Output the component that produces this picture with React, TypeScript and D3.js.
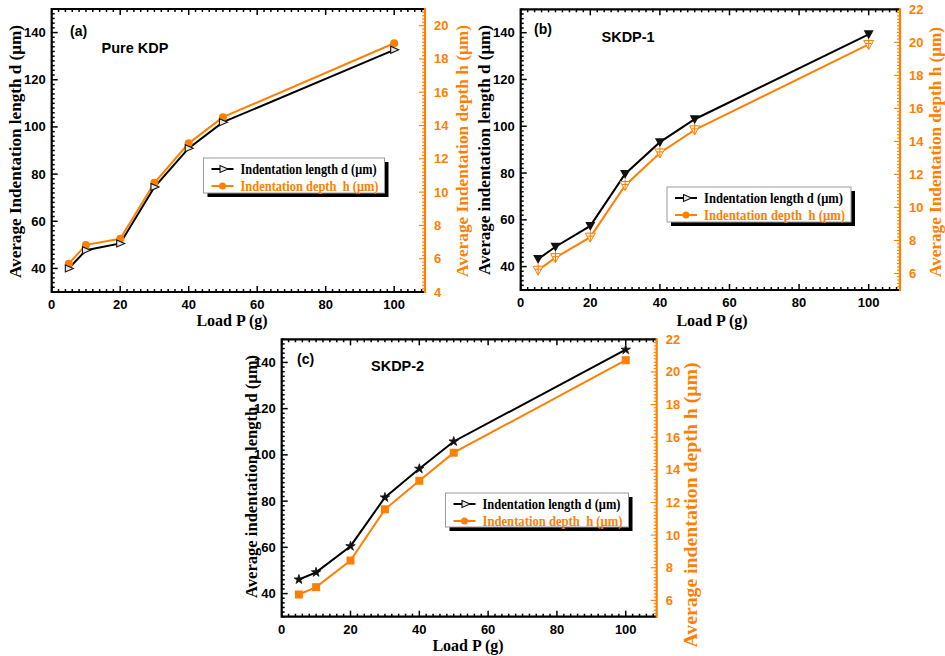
import React from "react";
import * as d3 from "d3";

const loads = [5, 10, 20, 30, 40, 50, 100];
const kdpLength = [40, 47.7, 50.6, 74.5, 91, 102, 132.7];
const kdpDepth = [5.7, 6.83, 7.2, 10.56, 12.93, 14.5, 18.94];
const skdp1Length = [43.2, 48.5, 57.4, 79.6, 93.2, 103, 139.3];
const skdp1Depth = [6.2, 6.96, 8.2, 11.33, 13.3, 14.7, 19.87];
const skdp2Length = [46.1, 49.2, 60.5, 81.6, 94, 105.8, 145.5];
const skdp2Depth = [6.36, 6.81, 8.44, 11.58, 13.33, 15.05, 20.72];

const xTicks = [0, 20, 40, 60, 80, 100];
const leftTicks = [40, 60, 80, 100, 120, 140];
const rightTicksA = [4, 6, 8, 10, 12, 14, 16, 18, 20];
const rightTicksBC = [6, 8, 10, 12, 14, 16, 18, 20, 22];

const legendLabels = ["Indentation length d (μm)", "Indentation depth  h (μm)"];

const ORANGE = "#ff8000";
const SANS = "'Liberation Sans', Arial, sans-serif";
const SERIF = "'Liberation Serif', 'Times New Roman', serif";

type MarkerKind = "rightTri" | "circle" | "downTri" | "psi" | "star" | "square";

function Marker({ kind, x, y }: { kind: MarkerKind; x: number; y: number }) {
  if (kind === "rightTri") {
    return <path d={`M${x - 3.5},${y - 3.5}L${x + 4.5},${y}L${x - 3.5},${y + 3.5}Z`} fill="#e8e8e8" stroke="#111" strokeWidth={1.1} />;
  }
  if (kind === "circle") return <circle cx={x} cy={y} r={4} fill={ORANGE} />;
  if (kind === "downTri") {
    return <path d={`M${x - 5},${y - 4}L${x + 5},${y - 4}L${x},${y + 5}Z`} fill="#111" />;
  }
  if (kind === "psi") {
    return (
      <g stroke={ORANGE} strokeWidth={1} fill="none">
        <path d={`M${x - 5},${y - 4}L${x + 5},${y - 4}L${x},${y + 5}Z`} fill="#fff3e6" />
        <path d={`M${x},${y - 6}L${x},${y + 5}M${x - 3},${y - 1}L${x + 3},${y - 1}`} />
      </g>
    );
  }
  if (kind === "star") {
    const p = d3.symbol(d3.symbolStar, 28)();
    return <path d={p || ""} transform={`translate(${x},${y})`} fill="#111" stroke="#111" strokeWidth={0.8} />;
  }
  return <rect x={x - 4} y={y - 4} width={8} height={8} fill={ORANGE} />;
}

type PanelProps = {
  frame: { x0: number; x1: number; y0: number; y1: number };
  xDomain: [number, number];
  leftDomain: [number, number];
  rightDomain: [number, number];
  rightTicks: number[];
  lengthVals: number[];
  depthVals: number[];
  blackMarker: MarkerKind;
  orangeMarker: MarkerKind;
  tag: string;
  name: string;
  tagPos: [number, number];
  namePos: [number, number];
  leftTitle: string;
  rightTitle: string;
  leftTitleX: number;
  rightTitleX: number;
  leftTitleLen: number;
  rightTitleLen: number;
  leftTitleY: number;
  rightTitleY: number;
  rightTitleSize: number;
  xTitleX: number;
  xTitleY: number;
  xTickY: number;
  legend: { x: number; y: number; w: number; h: number };
};

function Panel(p: PanelProps) {
  const { x0, x1, y0, y1 } = p.frame;
  const xs = d3.scaleLinear().domain(p.xDomain).range([x0, x1]);
  const yl = d3.scaleLinear().domain(p.leftDomain).range([y1, y0]);
  const yr = d3.scaleLinear().domain(p.rightDomain).range([y1, y0]);
  const xMinor = d3.range(0, p.xDomain[1] + 0.001, 2);
  const lMinor = d3.range(p.leftDomain[0], p.leftDomain[1] + 0.001, 2);
  const rMinor = d3.range(p.rightDomain[0], p.rightDomain[1] + 0.001, 0.2);
  const lenPath = d3.line<number>().x((_, i) => xs(loads[i])).y((v) => yl(v))(p.lengthVals) || "";
  const depPath = d3.line<number>().x((_, i) => xs(loads[i])).y((v) => yr(v))(p.depthVals) || "";
  const L = p.legend;
  return (
    <g>
      {xMinor.map((v) => {
        const major = Math.abs(v % 20) < 1e-6;
        const len = major ? 6 : 3;
        return (
          <g key={"xt" + v} stroke="#000" strokeWidth={1.5}>
            <line x1={xs(v)} x2={xs(v)} y1={y1} y2={y1 - len} />
            <line x1={xs(v)} x2={xs(v)} y1={y0} y2={y0 + len} />
          </g>
        );
      })}
      {lMinor.map((v) => {
        const major = Math.abs(v % 20) < 1e-6;
        const len = major ? 6 : 3;
        return <line key={"lt" + v} x1={x0} x2={x0 + len} y1={yl(v)} y2={yl(v)} stroke="#000" strokeWidth={1.5} />;
      })}
      {rMinor.map((v, i) => {
        const major = Math.abs(v - Math.round(v)) < 1e-6 && Math.round(v) % 2 === 0;
        const len = major ? 6 : 3;
        return <line key={"rt" + i} x1={x1} x2={x1 - len} y1={yr(v)} y2={yr(v)} stroke={ORANGE} strokeWidth={1.1} />;
      })}
      <path d={`M${x1},${y0}L${x0},${y0}L${x0},${y1}L${x1},${y1}`} fill="none" stroke="#000" strokeWidth={2.2} />
      <line x1={x1} x2={x1} y1={y0 - 1} y2={y1 + 1} stroke={ORANGE} strokeWidth={2.2} />
      {xTicks.map((v) => (
        <text key={"xl" + v} x={xs(v)} y={p.xTickY} textAnchor="middle" dominantBaseline="central" fontFamily={SANS} fontWeight="bold" fontSize={13}>
          {v}
        </text>
      ))}
      {leftTicks.map((v) => (
        <text key={"ll" + v} x={x0 - 6} y={yl(v)} textAnchor="end" dominantBaseline="central" fontFamily={SANS} fontWeight="bold" fontSize={13}>
          {v}
        </text>
      ))}
      {p.rightTicks.map((v) => (
        <text key={"rl" + v} x={x1 + 9} y={yr(v)} textAnchor="start" dominantBaseline="central" fontFamily={SANS} fontWeight="bold" fontSize={13} fill={ORANGE}>
          {v}
        </text>
      ))}
      <text
        transform={`translate(${p.leftTitleX},${p.leftTitleY}) rotate(-90)`}
        textAnchor="middle"
        dominantBaseline="central"
        fontFamily={SERIF}
        fontWeight="bold"
        fontSize={17}
        textLength={p.leftTitleLen}
        lengthAdjust="spacingAndGlyphs"
      >
        {p.leftTitle}
      </text>
      <text
        transform={`translate(${p.rightTitleX},${p.rightTitleY}) rotate(-90)`}
        textAnchor="middle"
        dominantBaseline="central"
        fontFamily={SERIF}
        fontWeight="bold"
        fontSize={p.rightTitleSize}
        fill={ORANGE}
        textLength={p.rightTitleLen}
        lengthAdjust="spacingAndGlyphs"
      >
        {p.rightTitle}
      </text>
      <text x={p.xTitleX} y={p.xTitleY} textAnchor="middle" dominantBaseline="central" fontFamily={SERIF} fontWeight="bold" fontSize={16}>
        Load P (g)
      </text>
      <text x={p.tagPos[0]} y={p.tagPos[1]} fontFamily={SANS} fontWeight="bold" fontSize={14}>
        {p.tag}
      </text>
      <text x={p.namePos[0]} y={p.namePos[1]} fontFamily={SANS} fontWeight="bold" fontSize={14.5}>
        {p.name}
      </text>
      <path d={depPath} fill="none" stroke={ORANGE} strokeWidth={2} />
      <path d={lenPath} fill="none" stroke="#000" strokeWidth={2} />
      {p.depthVals.map((v, i) => (
        <Marker key={"dm" + i} kind={p.orangeMarker} x={xs(loads[i])} y={yr(v)} />
      ))}
      {p.lengthVals.map((v, i) => (
        <Marker key={"lm" + i} kind={p.blackMarker} x={xs(loads[i])} y={yl(v)} />
      ))}
      <rect x={L.x + 4} y={L.y + 4} width={L.w} height={L.h} fill="#000" />
      <rect x={L.x} y={L.y} width={L.w} height={L.h} fill="#fff" stroke="#9a9a9a" strokeWidth={1} />
      <line x1={L.x + 8} x2={L.x + 30} y1={L.y + 11} y2={L.y + 11} stroke="#000" strokeWidth={2} />
      <Marker kind="rightTri" x={L.x + 20} y={L.y + 11} />
      <line x1={L.x + 8} x2={L.x + 30} y1={L.y + 28} y2={L.y + 28} stroke={ORANGE} strokeWidth={2} />
      <circle cx={L.x + 19} cy={L.y + 28} r={3.5} fill={ORANGE} />
      <text
        x={L.x + 37}
        y={L.y + 11}
        dominantBaseline="central"
        fontFamily={SERIF}
        fontWeight="bold"
        fontSize={15}
        textLength={L.w - 45}
        lengthAdjust="spacingAndGlyphs"
        style={{ whiteSpace: "pre" }}
      >
        {legendLabels[0]}
      </text>
      <text
        x={L.x + 37}
        y={L.y + 28}
        dominantBaseline="central"
        fontFamily={SERIF}
        fontWeight="bold"
        fontSize={15}
        fill={ORANGE}
        textLength={L.w - 43}
        lengthAdjust="spacingAndGlyphs"
        style={{ whiteSpace: "pre" }}
      >
        {legendLabels[1]}
      </text>
    </g>
  );
}

export default function App() {
  return (
    <svg width={945} height={656} style={{ position: "absolute", left: 0, top: 0, background: "#fff" }}>
      <rect width={945} height={656} fill="#fff" />
      <Panel
        frame={{ x0: 51.7, x1: 425, y0: 9, y1: 292 }}
        xDomain={[0, 109]}
        leftDomain={[30, 150]}
        rightDomain={[4, 21]}
        rightTicks={rightTicksA}
        lengthVals={kdpLength}
        depthVals={kdpDepth}
        blackMarker="rightTri"
        orangeMarker="circle"
        tag="(a)"
        name="Pure KDP"
        tagPos={[70, 36]}
        namePos={[101.5, 52.5]}
        leftTitle="Average Indentation length d (μm)"
        rightTitle="Average Indentation depth h (μm)"
        leftTitleX={15}
        rightTitleX={462}
        leftTitleLen={253}
        rightTitleLen={252}
        leftTitleY={151.5}
        rightTitleY={151}
        rightTitleSize={17}
        xTitleX={232}
        xTitleY={320}
        xTickY={304}
        legend={{ x: 203.5, y: 158, w: 181, h: 35 }}
      />
      <Panel
        frame={{ x0: 520.7, x1: 900, y0: 9.3, y1: 290 }}
        xDomain={[0, 109]}
        leftDomain={[30, 150]}
        rightDomain={[5, 22]}
        rightTicks={rightTicksBC}
        lengthVals={skdp1Length}
        depthVals={skdp1Depth}
        blackMarker="downTri"
        orangeMarker="psi"
        tag="(b)"
        name="SKDP-1"
        tagPos={[534, 34]}
        namePos={[601.5, 42]}
        leftTitle="Average indentation length d (μm)"
        rightTitle="Average Indentation depth h (μm)"
        leftTitleX={484}
        rightTitleX={935}
        leftTitleLen={250}
        rightTitleLen={250}
        leftTitleY={150}
        rightTitleY={152}
        rightTitleSize={17}
        xTitleX={712}
        xTitleY={320}
        xTickY={302}
        legend={{ x: 667, y: 187, w: 184, h: 35 }}
      />
      <Panel
        frame={{ x0: 281.7, x1: 656.7, y0: 339.3, y1: 616.7 }}
        xDomain={[0, 109]}
        leftDomain={[30, 150]}
        rightDomain={[5, 22]}
        rightTicks={rightTicksBC}
        lengthVals={skdp2Length}
        depthVals={skdp2Depth}
        blackMarker="star"
        orangeMarker="square"
        tag="(c)"
        name="SKDP-2"
        tagPos={[297, 364]}
        namePos={[371, 371]}
        leftTitle="Average indentation length d (μm)"
        rightTitle="Average indentation depth h (μm)"
        leftTitleX={251}
        rightTitleX={691}
        leftTitleLen={243}
        rightTitleLen={285}
        leftTitleY={476.5}
        rightTitleY={505}
        rightTitleSize={18}
        xTitleX={468}
        xTitleY={645}
        xTickY={629}
        legend={{ x: 445.5, y: 493, w: 183, h: 34 }}
      />
    </svg>
  );
}
